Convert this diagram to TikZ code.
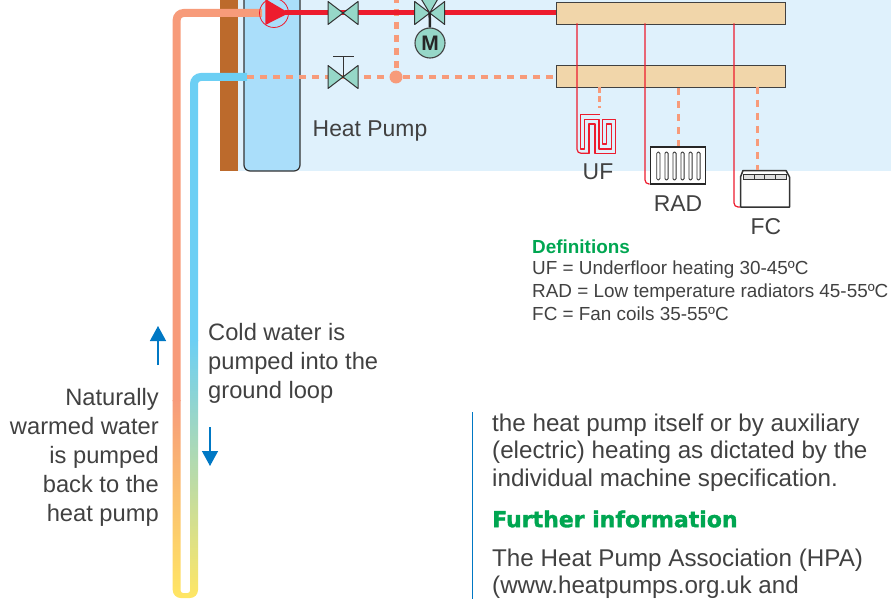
\documentclass[tikz,border=0pt]{standalone}
\usepackage{fontspec}
\setmainfont{Liberation Sans}
\newfontfamily\headfont[UprightFont=* Bold, FakeBold=1.6]{DejaVu Sans}
\usetikzlibrary{arrows.meta,positioning}
\definecolor{warmpipe}{RGB}{247,155,122}
\definecolor{coldpipe}{RGB}{108,207,244}
\definecolor{loopend}{RGB}{255,230,100}
\definecolor{flowred}{RGB}{237,28,46}
\definecolor{roomblue}{RGB}{223,241,252}
\definecolor{tankblue}{RGB}{170,222,250}
\definecolor{wallbrown}{RGB}{188,106,44}
\definecolor{valvegreen}{RGB}{150,215,200}
\definecolor{barbeige}{RGB}{241,214,170}
\definecolor{inkgrey}{RGB}{65,65,65}
\definecolor{arrowblue}{RGB}{0,120,196}
\definecolor{headgreen}{RGB}{0,166,81}
\tikzset{
    lbl/.style = {inner sep=0pt, text=inkgrey, font=\fontsize{23.7}{29}\selectfont, align=left},
    para/.style = {lbl, anchor=north west, font=\fontsize{24.2}{27.2}\selectfont},
    small/.style = {inner sep=0pt, text=inkgrey, font=\fontsize{18.9}{23}\selectfont, align=left, anchor=north west},
    bar/.style = {draw=inkgrey, line width=1.2pt, fill=barbeige, minimum width=229pt, minimum height=22pt, inner sep=0pt},
    warmdash/.style = {warmpipe, line width=4pt, dash pattern=on 7pt off 6pt},
    thindash/.style = {warmpipe, line width=3pt, dash pattern=on 7pt off 6pt},
    feed/.style = {flowred, line width=1.2pt, rounded corners=4pt},
    coil/.style = {flowred, line width=1.1pt},
    bow/.style = {draw=black!80, line width=1pt, fill=valvegreen, line join=round},
    flowarrow/.style = {arrowblue, line width=1.4pt, -{Triangle[length=15pt,width=16pt]}}
}
\newcommand{\valve}[2]{%
  \path[bow] (#1-15,#2-11.5) -- (#1+15,#2+11.5) -- (#1+15,#2-11.5) -- (#1-15,#2+11.5) -- cycle;}
\begin{document}
\begin{tikzpicture}[x=1pt,y=-1pt]
\useasboundingbox (0,0) rectangle (891,599);
% room, wall and tank
\fill[roomblue] (238,0) rectangle (891,171);
\fill[wallbrown] (220,0) rectangle (238,171);
\begin{scope}
\clip (0,0) rectangle (891,599);
\draw[draw=black!80, line width=1.2pt, fill=tankblue, rounded corners=6pt]
    (244,-10) -- (244,171) -- (300,171) -- (300,-10);
\end{scope}
% ground loop
\coordinate (warmtop) at (262,13);
\coordinate (coldtop) at (247,77);
\shade[top color=warmpipe, bottom color=loopend]
    (172.7,400) -- (172.7,590) arc[start angle=180,end angle=90,radius=8] -- (185,598) -- (185,593)
    -- (183,593) arc[start angle=90,end angle=180,radius=2.3] -- (180.7,400) -- cycle;
\shade[top color=coldpipe, bottom color=loopend]
    (198,340) -- (198,590) arc[start angle=0,end angle=90,radius=8] -- (185,598) -- (185,593)
    -- (187.7,593) arc[start angle=90,end angle=0,radius=2.3] -- (190,340) -- cycle;
\draw[warmpipe, line width=8pt, rounded corners=7pt] (176.7,401) |- (warmtop);
\draw[coldpipe, line width=8pt, rounded corners=7pt] (194,341) |- (coldtop);
% headers
\node (flowbar) [bar, anchor=north west] at (555.5,2) {};
\node (returnbar) [bar, anchor=north west] at (555.5,65) {};
\coordinate (tee) at (396,77);
\draw[warmdash] (coldtop) -- (returnbar.west |- coldtop);
\draw[warmdash, line width=5pt] (396,-4) -- (tee);
\fill[warmpipe] (tee) circle (6.5);
\draw[flowred, line width=5pt] (285,13) -- (flowbar.west |- 0,13);
% pump
\node (pump) [circle, draw=flowred, line width=.8pt, minimum size=29pt, inner sep=0pt] at (274,13) {};
\fill[flowred] (265.3,-1) -- (289,13) -- (265.3,25) -- cycle;
% valves
\valve{343}{13}
\valve{429.7}{13}
\path[bow] (429.7,13) -- (420,-3) -- (439,-3) -- cycle;
\node (motor) [circle, draw=inkgrey, line width=1.1pt, fill=valvegreen, minimum size=30pt, inner sep=0pt,
    font=\fontsize{21}{21}\selectfont\bfseries, text=black!85] at (430,43) {M};
\draw[black!85, line width=2.5pt] (429.7,13) -- (motor);
\draw[black!80, line width=1pt] (343,77) -- (343,57) (333,57) -- (354,57);
\valve{343}{77}
\node (hp) [lbl, font=\fontsize{22.9}{29}\selectfont] at (370,131) {Heat Pump};
% emitters
\node (rad) [draw=black!85, line width=1.8pt, fill=white, minimum width=55pt, minimum height=37pt, inner sep=0pt] at (678,165.5) {};
\foreach \x in {658.3,666.5,674.5,682.5,690.5,698.5}
    \draw[black!80, line width=.8pt, rounded corners=1.4pt, fill=white] (\x-1.6,152) rectangle (\x+1.6,180);
\draw[feed] (645,23.5) |- (rad.west |- 0,184);
\draw[thindash] (returnbar.south -| rad) -- (rad.north);
\node (fc) [inner sep=0pt, minimum width=50pt, minimum height=37pt] at (765,188.5) {};
\draw[black!80, line width=1.5pt, fill=white, line join=round]
    (743,170.5) -- (786,170.5) -- (789.5,177) -- (789.5,207) -- (740.5,207) -- (740.5,177) -- cycle;
\draw[black!80, line width=.9pt, fill=black!12] (743.5,174) rectangle (786,179.5);
\foreach \x in {754,764,775}
    \draw[black!80, line width=.8pt] (\x,174) -- (\x,179.5);
\draw[feed] (734,23.5) |- (fc.west |- 0,207);
\draw[thindash] (757,87) -- (757,170);
\draw[feed] (577,23.5) |- (589,153.3);
\draw[coil, line join=round] (586,153.3) -- (589,153.3) -- (589,124) -- (595,124) -- (595,153.3) -- (615.5,153.3) -- (615.5,119.5) -- (602.5,119.5) -- (602.5,144) -- (606.7,144) -- (606.7,124) -- (611.5,124) -- (611.5,149) -- (599,149) -- (599,119.5) -- (584.5,119.5) -- (584.5,149) -- (580.7,149) -- (580.7,114.3) -- (600,114.3);
\draw[thindash, dash pattern=on 6pt off 3.5pt] (599,87) -- (599,108);
\node (uf) [lbl, font=\fontsize{22.9}{29}\selectfont] at (598,171.5) {UF};
\node (radlbl) [lbl, font=\fontsize{22.9}{29}\selectfont] at (678,203.5) {RAD};
\node (fclbl) [lbl, font=\fontsize{22.9}{29}\selectfont] at (766,226.5) {FC};
% notes
\node (defs) [small, text=headgreen, font=\fontsize{18.9}{23}\selectfont\bfseries] at (532,239.5) {Definitions};
\node (deftext) [small] at (532,261) {UF = Underfloor heating 30-45ºC\\RAD = Low temperature radiators 45-55ºC\\FC = Fan coils 35-55ºC};
\node (cold) [lbl, anchor=north west] at (208,323) {Cold water is\\pumped into the\\ground loop};
\node (warm) [lbl, anchor=north east, align=right] at (159,388) {Naturally\\warmed water\\is pumped\\back to the\\heat pump};
\coordinate (upa) at (158,365);
\coordinate (upb) at (158,326);
\coordinate (downa) at (210,427);
\coordinate (downb) at (210,466);
\draw[flowarrow] (upa) -- (upb);
\draw[flowarrow] (downa) -- (downb);
\draw[arrowblue, line width=1.2pt] (472.5,412) -- (472.5,599);
\node (body) [para] at (492,414) {the heat pump itself or by auxiliary\\(electric) heating as dictated by the\\individual machine specification.};
\node (further) [inner sep=0pt, anchor=west, text=headgreen, font=\headfont\fontsize{22}{26}\selectfont] at (492,519) {Further information};
\node (body2) [para, font=\fontsize{24.2}{26.5}\selectfont] at (492,549) {The Heat Pump Association (HPA)\\(www.heatpumps.org.uk and};
\end{tikzpicture}
\end{document}
